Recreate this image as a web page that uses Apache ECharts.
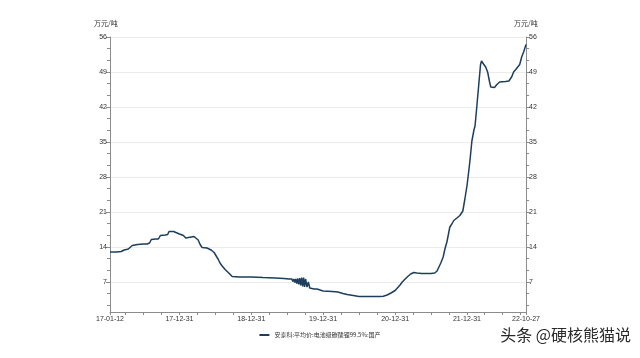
<!DOCTYPE html>
<html><head><meta charset="utf-8">
<script src="https://cdn.jsdelivr.net/npm/echarts@6/dist/echarts.min.js"></script>
<style>html,body{margin:0;padding:0;background:#fff}#c{width:640px;height:358px}</style>
</head><body><div id="c"></div>
<script>
const seriesName = '安泰科:平均价:电池级碳酸锂99.5%:国产';
const unitLabel = '万元/吨';
const watermark = '头条 @硬核熊猫说';
const yTickLabels = [7, 14, 21, 28, 35, 42, 49, 56];
const yMinorTicks = [2.333, 4.667, 9.333, 11.667, 16.333, 18.667, 23.333, 25.667, 30.333, 32.667, 37.333, 39.667, 44.333, 46.667, 51.333, 53.667];
const xLabelDates = ['2017-01-12','2017-12-31','2018-12-31','2019-12-31','2020-12-31','2021-12-31','2022-10-27'];
const xTickDates = ['2017-01-12','2017-03-31','2017-06-30','2017-09-30','2017-12-31',
  '2018-03-31','2018-06-30','2018-09-30','2018-12-31',
  '2019-03-31','2019-06-30','2019-09-30','2019-12-31',
  '2020-03-31','2020-06-30','2020-09-30','2020-12-31',
  '2021-03-31','2021-06-30','2021-09-30','2021-12-31',
  '2022-03-31','2022-06-30','2022-09-30','2022-10-27'];
const dates = [
 '2017-01-12','2017-02-15','2017-03-10','2017-03-25','2017-04-15','2017-04-25','2017-05-05','2017-06-01','2017-07-01','2017-07-20',
 '2017-08-01','2017-08-10','2017-09-01','2017-09-15','2017-09-25','2017-10-20','2017-11-01','2017-11-08','2017-12-01','2017-12-10','2017-12-31',
 '2018-01-20','2018-02-01','2018-02-10','2018-03-15','2018-03-25','2018-04-05','2018-04-15','2018-04-25','2018-05-20','2018-06-10',
 '2018-06-25','2018-07-05','2018-07-15','2018-07-25','2018-08-05','2018-08-20','2018-09-10','2018-09-25','2018-10-05','2018-11-01','2018-12-31',
 '2019-03-01','2019-05-01','2019-06-15','2019-07-10','2019-07-15','2019-07-20','2019-07-25','2019-07-30','2019-08-04','2019-08-09',
 '2019-08-14','2019-08-19','2019-08-24','2019-08-29','2019-09-03','2019-09-08','2019-09-13','2019-09-18','2019-09-23','2019-09-28',
 '2019-10-03','2019-10-10','2019-10-17','2019-10-24','2019-11-01','2019-11-15','2019-11-30','2019-12-10','2019-12-31',
 '2020-02-15','2020-03-15','2020-04-10','2020-05-01','2020-06-01','2020-07-01','2020-09-01','2020-10-15','2020-11-01','2020-11-20','2020-12-10','2020-12-31',
 '2021-01-10','2021-01-25','2021-02-05','2021-02-20','2021-03-05','2021-03-20','2021-04-05','2021-04-20','2021-05-15','2021-07-01','2021-07-20',
 '2021-08-01','2021-08-10','2021-08-20','2021-09-01','2021-09-10','2021-09-20','2021-09-30','2021-10-05','2021-10-15','2021-10-25',
 '2021-11-10','2021-11-25','2021-12-10','2021-12-20',
 '2022-01-01','2022-01-10','2022-01-15','2022-01-25','2022-02-05','2022-02-10','2022-02-20','2022-03-01','2022-03-10','2022-03-15',
 '2022-03-25','2022-04-05','2022-04-15','2022-04-25','2022-05-01','2022-05-10','2022-05-20','2022-06-01','2022-06-15','2022-07-15',
 '2022-08-01','2022-08-15','2022-08-25','2022-09-05','2022-09-15','2022-09-25','2022-10-05','2022-10-15','2022-10-27'];
const prices = [
 13.0,13.0,13.1,13.4,13.6,13.7,14.3,14.5,14.6,14.6,
 14.8,15.5,15.6,15.6,16.3,16.4,16.5,17.1,17.1,16.8,16.6,
 16.3,15.8,16.1,16.1,15.8,15.4,14.5,13.9,13.8,13.4,
 12.9,12.5,11.6,10.8,10.2,9.5,8.7,8.1,8.0,8.0,8.0,
 7.9,7.8,7.7,7.6,7.6,7.3,7.6,7.1,7.6,6.9,
 7.6,6.7,7.7,6.5,7.8,6.3,7.9,6.1,7.9,6.0,
 7.6,6.0,7.0,5.8,6.2,5.6,5.6,5.3,5.2,
 5.1,5.0,4.7,4.5,4.3,4.1,4.1,4.1,4.15,4.4,4.8,5.3,
 5.7,6.4,7.0,7.6,8.1,8.6,8.9,8.8,8.7,8.7,8.8,
 9.2,9.6,10.8,12.0,13.6,15.0,17.0,18.0,18.6,19.3,
 19.8,20.3,21.2,23.5,
 26.5,29.5,31.2,35.2,37.5,38.2,42.5,46.5,50.5,51.2,
 50.6,50.0,49.0,47.0,46.0,45.6,45.9,46.5,47.0,47.1,
 47.2,48.0,49.0,49.5,50.0,50.5,52.0,53.0,54.5];

const ts = s => Date.parse(s + 'T00:00:00Z');
const seriesData = dates.map((d, i) => [ts(d), prices[i]]);
const fmt = v => { const d = new Date(v); const p = n => String(n).padStart(2, '0');
  return p(d.getUTCFullYear() % 100) + '-' + p(d.getUTCMonth() + 1) + '-' + p(d.getUTCDate()); };

const axisColor = '#8c8c8c';
const labelStyle = { fontSize: 7, color: '#333', fontFamily: 'Liberation Sans, Arial, sans-serif' };
function yAx(pos, major) {
  return {
    type: 'value', position: pos, min: 1, max: 56, offset: 0,
    axisLine: { show: major, lineStyle: { color: axisColor, width: 1 } },
    axisTick: { show: true, customValues: major ? yTickLabels : yMinorTicks, length: major ? 4 : 3, lineStyle: { color: axisColor } },
    axisLabel: major ? Object.assign({ show: true, customValues: yTickLabels, margin: 3 }, labelStyle) : { show: false },
    splitLine: { show: major && pos === 'left', lineStyle: { color: '#ececec', width: 1 } }
  };
}
const chart = echarts.init(document.getElementById('c'), null, { renderer: 'canvas' });
chart.setOption({
  animation: false,
  backgroundColor: '#fff',
  grid: { left: 110, right: 114, top: 37, bottom: 46, containLabel: false },
  xAxis: {
    type: 'value', min: ts(xLabelDates[0]), max: ts(xLabelDates[xLabelDates.length - 1]),
    axisLine: { show: true, lineStyle: { color: axisColor } },
    axisTick: { show: true, customValues: xTickDates.map(ts), length: 3, lineStyle: { color: axisColor } },
    axisLabel: Object.assign({ customValues: xLabelDates.map(ts), formatter: fmt, margin: 4 }, labelStyle),
    splitLine: { show: false }
  },
  yAxis: [yAx('left', true), yAx('right', true), yAx('left', false), yAx('right', false)],
  legend: {
    show: true, left: 'center', top: 327, icon: 'rect', itemWidth: 10, itemHeight: 2, itemGap: 5,
    textStyle: { fontSize: 6, color: '#333', fontFamily: 'Noto Sans CJK SC' },
    data: [seriesName]
  },
  series: [{
    name: seriesName, type: 'line', yAxisIndex: 0, data: seriesData, showSymbol: false, symbol: 'none',
    lineStyle: { color: '#1d3e5c', width: 1.5 }, itemStyle: { color: '#1d3e5c' }
  }],
  graphic: [
    { type: 'text', left: 94, top: 20, style: { text: unitLabel, fontSize: 7, fill: '#333', fontFamily: 'Noto Sans CJK SC' } },
    { type: 'text', left: 514, top: 20, style: { text: unitLabel, fontSize: 7, fill: '#333', fontFamily: 'Noto Sans CJK SC' } },
    { type: 'text', right: 8, top: 326, style: { text: watermark, fontSize: 16, fill: '#2a2a2a', stroke: '#fff', lineWidth: 2, fontFamily: 'Noto Sans CJK SC' } }
  ]
});
</script></body></html>
